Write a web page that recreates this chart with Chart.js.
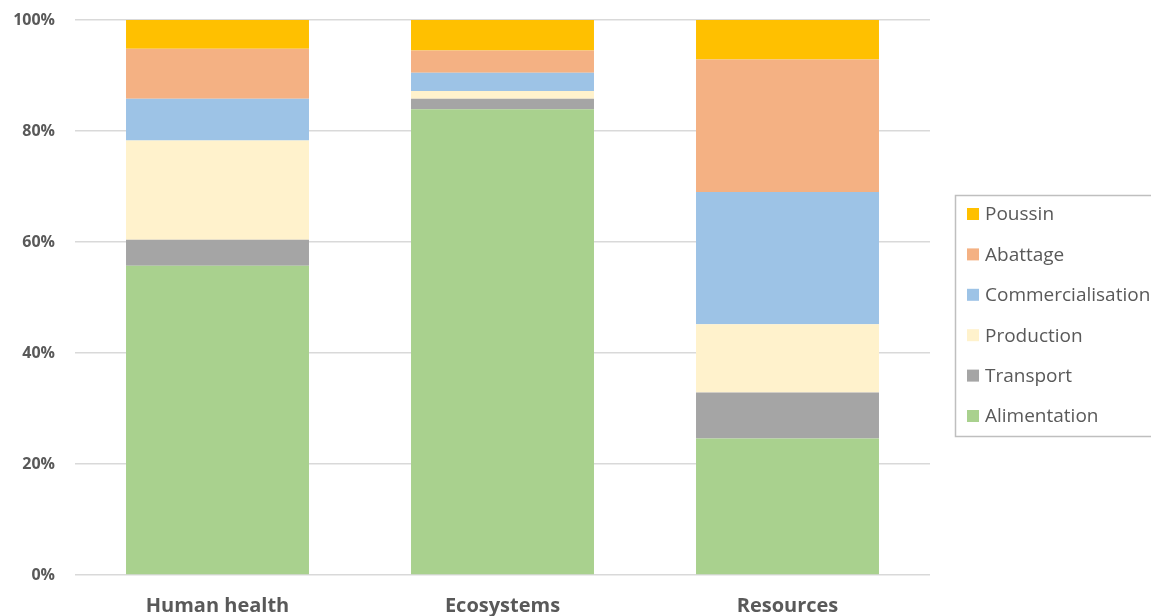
<!DOCTYPE html>
<html>
<head>
<meta charset="utf-8">
<script src="https://cdn.jsdelivr.net/npm/chart.js@4.4.0/dist/chart.umd.min.js"></script>
<style>
html,body{margin:0;padding:0;background:#fff;overflow:hidden;}
#wrap{position:relative;width:1151px;height:616px;}
</style>
</head>
<body>
<div id="wrap"><canvas id="c" width="1151" height="616"></canvas></div>
<script>
const categories = ["Human health", "Ecosystems", "Resources"];
const seriesNames = ["Alimentation", "Transport", "Production", "Commercialisation", "Abattage", "Poussin"];
const alimentation = [55.7, 83.9, 24.6];
const transport = [4.7, 1.9, 8.3];
const production = [17.9, 1.4, 12.3];
const commercialisation = [7.5, 3.3, 23.8];
const abattage = [9.0, 4.0, 23.9];
const poussin = [5.2, 5.5, 7.1];
const yTicks = [0, 20, 40, 60, 80, 100];
const colors = ["#a9d18e", "#a5a5a5", "#fff2cc", "#9dc3e6", "#f4b183", "#ffc000"];

const values = [alimentation, transport, production, commercialisation, abattage, poussin];
const datasets = seriesNames.map((n, i) => ({
  label: n, data: values[i], backgroundColor: colors[i], borderWidth: 0,
  barPercentage: 0.642, categoryPercentage: 1
}));

const legendPlugin = {
  id: 'boxLegend',
  afterDraw(chart) {
    const ctx = chart.ctx;
    ctx.save();
    ctx.strokeStyle = '#bfbfbf';
    ctx.lineWidth = 1.5;
    ctx.strokeRect(955.5, 195.5, 220, 241);
    ctx.font = '19px "Open Sans", sans-serif';
    ctx.textBaseline = 'middle';
    ctx.textAlign = 'left';
    const order = [5, 4, 3, 2, 1, 0];
    order.forEach((di, k) => {
      const y = 214 + k * 40.4;
      ctx.fillStyle = colors[di];
      ctx.fillRect(967, y - 6, 12, 12);
      ctx.fillStyle = '#595959';
      ctx.fillText(seriesNames[di], 985, y + 1);
    });
    ctx.restore();
  }
};

new Chart(document.getElementById('c'), {
  type: 'bar',
  data: { labels: categories, datasets },
  options: {
    responsive: false,
    animation: false,
    layout: { padding: { left: 0, right: 221, top: 20, bottom: 0 } },
    plugins: { legend: { display: false }, tooltip: { enabled: false } },
    scales: {
      x: {
        stacked: true,
        grid: { display: false, drawTicks: false },
        border: { display: false },
        ticks: { color: '#595959', font: { family: '"Open Sans", sans-serif', size: 20, weight: 'bold' }, padding: 19 },
        afterFit(s) { s.height = 41; s.paddingLeft = 0; s.paddingRight = 0; }
      },
      y: {
        stacked: true, min: 0, max: 100,
        afterBuildTicks(s) { s.ticks = yTicks.map(v => ({ value: v })); },
        grid: { color: '#d9d9d9', lineWidth: 1.5, drawTicks: false },
        border: { display: false },
        ticks: { color: '#595959', font: { family: '"Open Sans", sans-serif', size: 16, weight: 'bold' }, padding: 20, callback: v => v + '%' },
        afterFit(s) { s.width = 75; s.paddingTop = 0; s.paddingBottom = 0; }
      }
    }
  },
  plugins: [legendPlugin]
});
</script>
</body>
</html>
